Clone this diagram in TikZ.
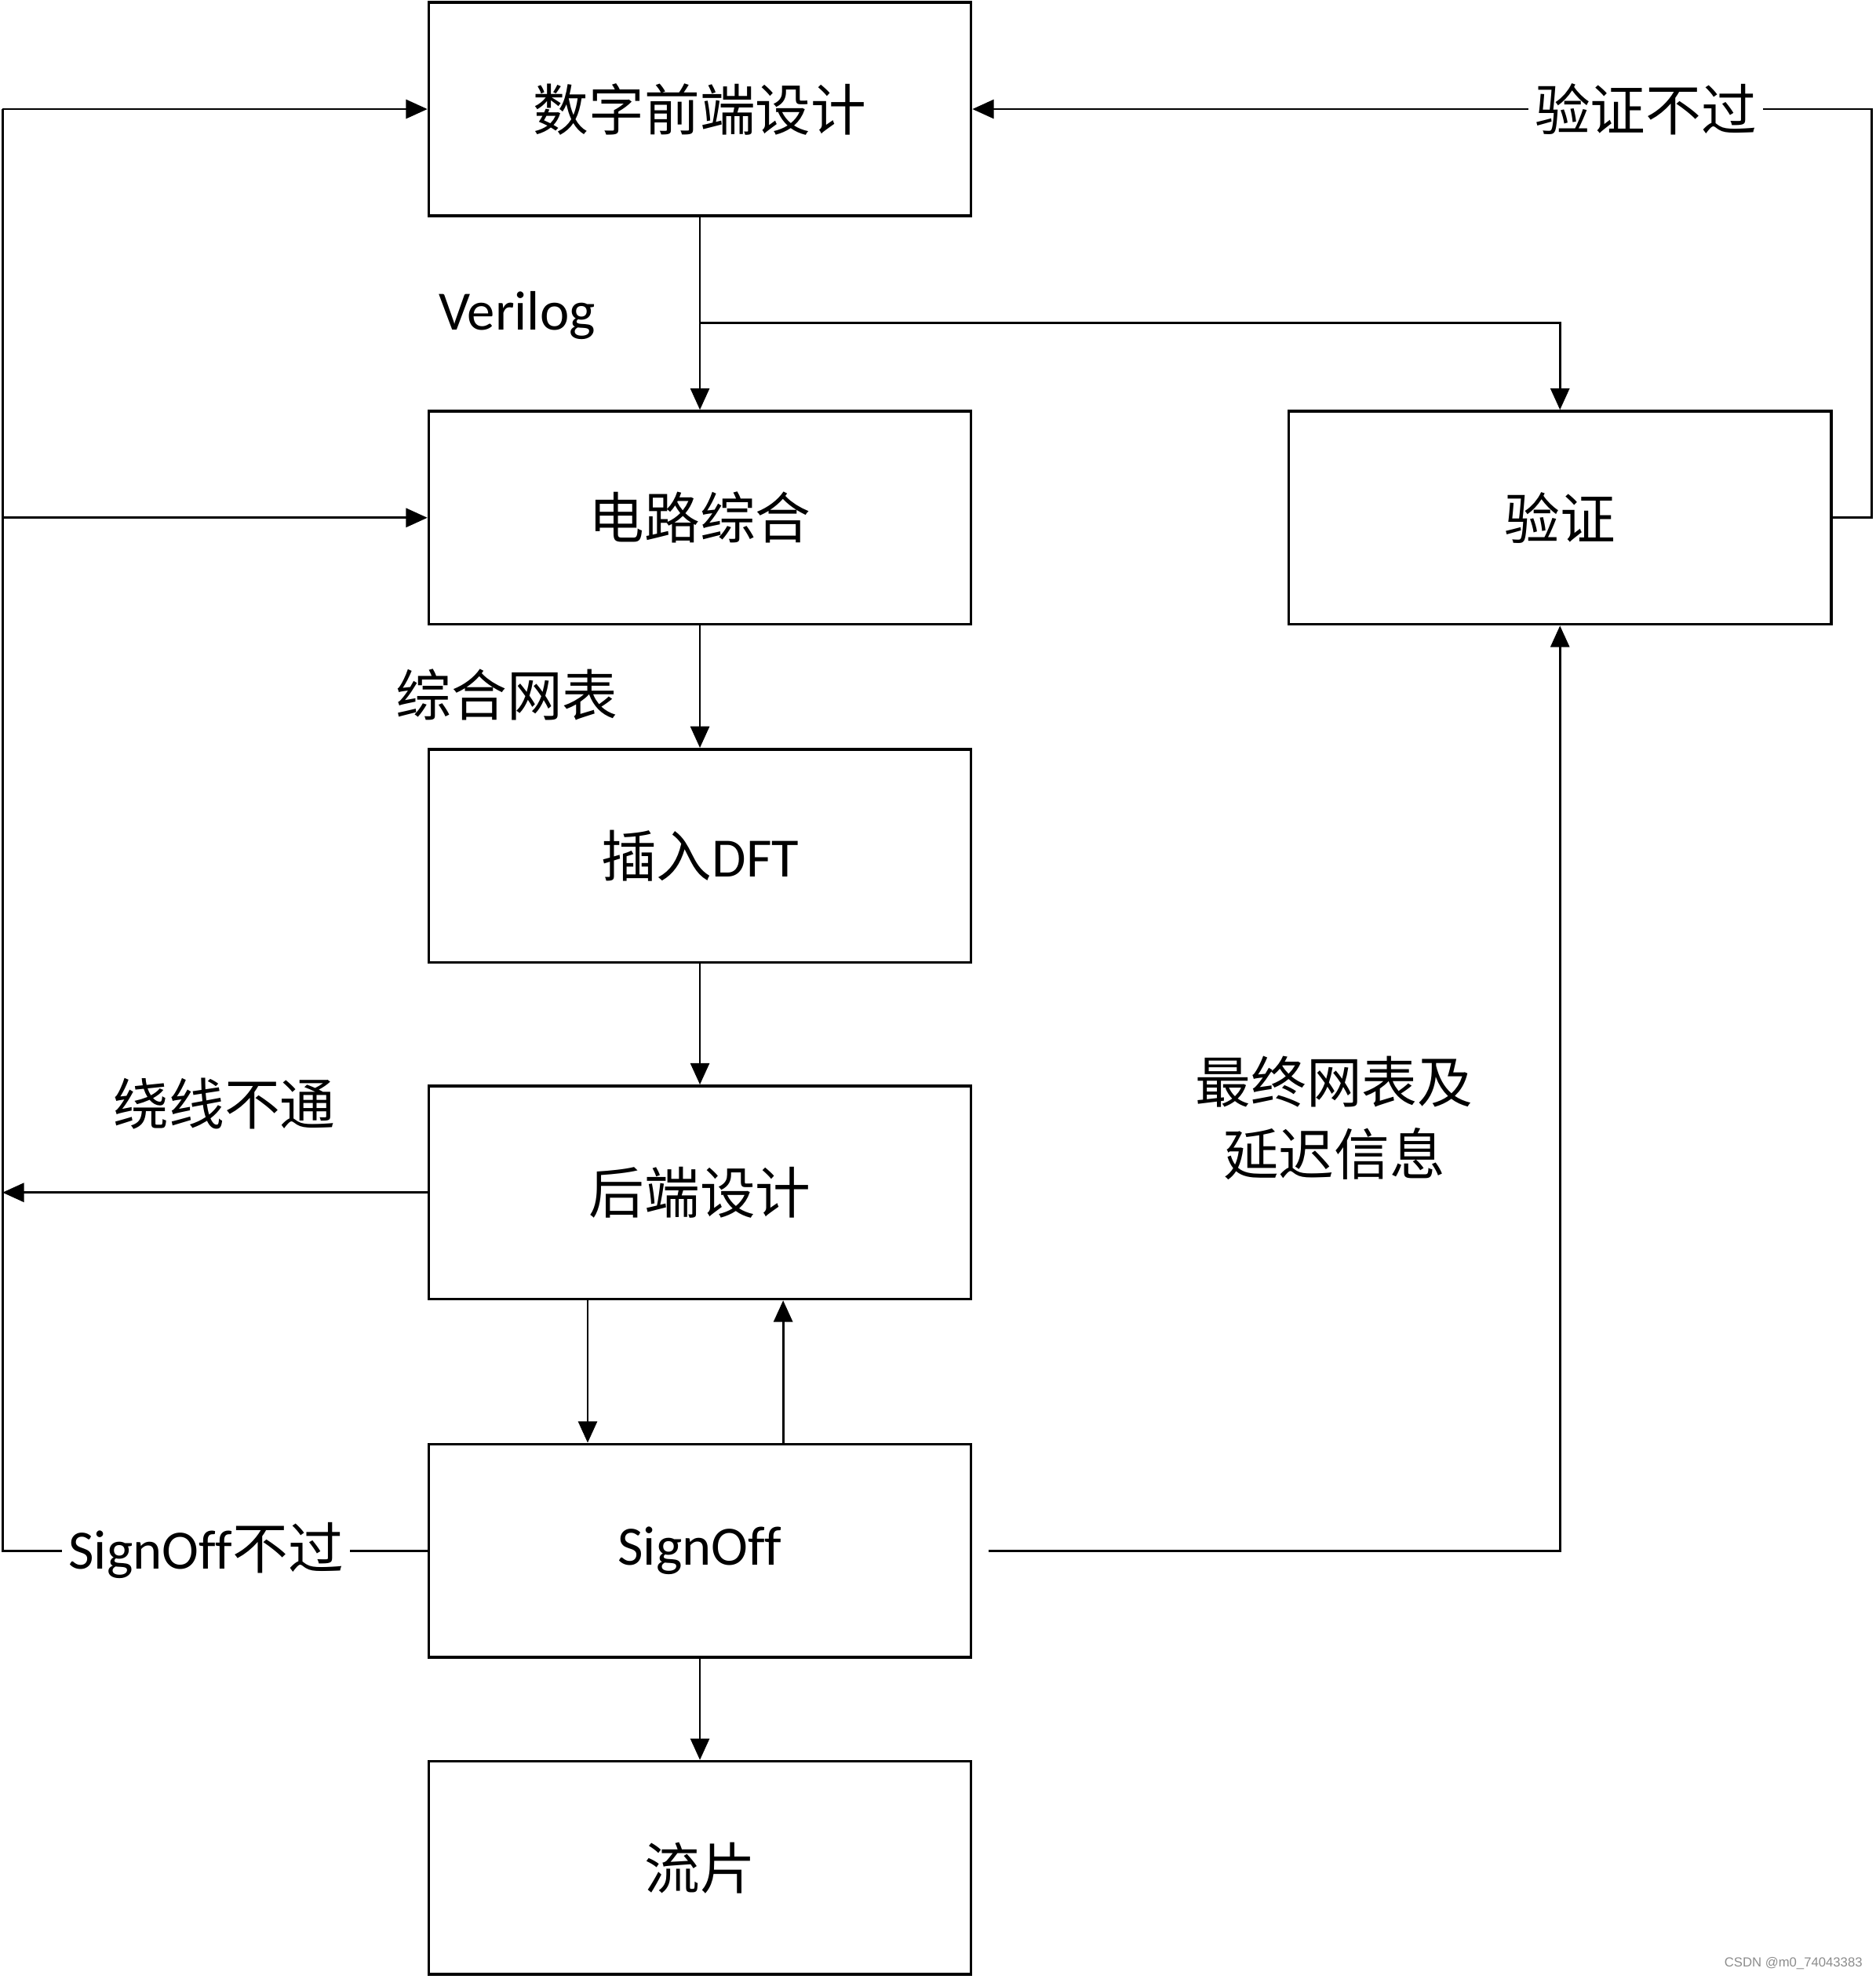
\documentclass[tikz,border=0pt]{standalone}
\usepackage{fontspec}
\setmainfont{Carlito}[Ligatures=NoCommon]
\newfontfamily\cjk{Noto Sans CJK SC}
\newfontfamily\wmfont{Liberation Sans}
\usetikzlibrary{arrows.meta}
\begin{document}
\begin{tikzpicture}[x=1pt,y=-1pt,
  box/.style={draw,line width=2.2pt,minimum width=430pt,minimum height=169pt,inner sep=0pt,font=\fontsize{44}{53}\selectfont},
  conn/.style={line width=1.7pt},
  arr/.style={conn,-{Triangle[length=17pt,width=15pt]}},
  lbl/.style={font=\fontsize{44}{53}\selectfont,inner sep=0pt},
  cjkl/.style={font=\cjk\fontsize{44}{57}\selectfont,inner sep=0pt},
  cut/.style={fill=white,inner xsep=5pt,inner ysep=2pt}]
\useasboundingbox (0,0) rectangle (1487,1569.1);
% boxes
\node[box] (fe) at (555,86.5) {\cjk 数字前端设计};
\node[box] (syn) at (555,410.5) {\cjk 电路综合};
\node[box] (dft) at (555,678.5) {{\cjk 插入}DFT};
\node[box] (be) at (555,945.5) {\cjk 后端设计};
\node[box] (so) at (555,1229.5) {SignOf\kern0ptf};
\node[box] (tape) at (555,1481) {\cjk 流片};
\node[box] (ver) at (1237,410.5) {\cjk 验证};
% helper coordinates
\coordinate (vsplit) at (555,256);
\coordinate (ltop) at (2,86.5);
\coordinate (lbot) at (2,1229.5);
% main flow
\draw[arr] (fe) -- (syn);
\draw[arr] (vsplit) -| (ver.north);
\draw[arr] (syn) -- (dft);
\draw[arr] (dft) -- (be);
\draw[arr] ([xshift=-89pt]be.south) -- ([xshift=-89pt]so.north);
\draw[arr] ([xshift=66pt]so.north) -- ([xshift=66pt]be.south);
\draw[arr] (so) -- (tape);
% verification loop
\draw[arr] (ver.east) -- ++(31,0) |- (fe.east);
\node[cjkl,cut] (vfail) at (1305,86.5) {验证不过};
% final netlist to verification
\draw[arr] ([xshift=13pt]so.east) -- (ver.south |- so.east) -- (ver.south);
% left loop
\draw[conn] (so.west) -- (lbot) -- (ltop);
\draw[arr] (ltop) -- (fe.west);
\draw[arr] (ltop |- syn.west) -- (syn.west);
\draw[arr] (be.west) -- (ltop |- be.west);
\node[lbl,cut] (sofail) at (163.5,1229.5) {SignOf\kern0ptf{\cjk 不过}};
% labels
\node[lbl] (verilog) at (410,250) {Verilog};
\node[cjkl] (synnet) at (402,551) {综合网表};
\node[cjkl] (route) at (178,875) {绕线不通};
\node[cjkl,align=center] (final) at (1058,886.5) {最终网表及\\延迟信息};
\node[font=\wmfont\fontsize{10.4}{12}\selectfont,text=black!45,anchor=east,inner sep=0pt] (wm) at (1477,1557) {CSDN @m0\_74043383};
\end{tikzpicture}
\end{document}
